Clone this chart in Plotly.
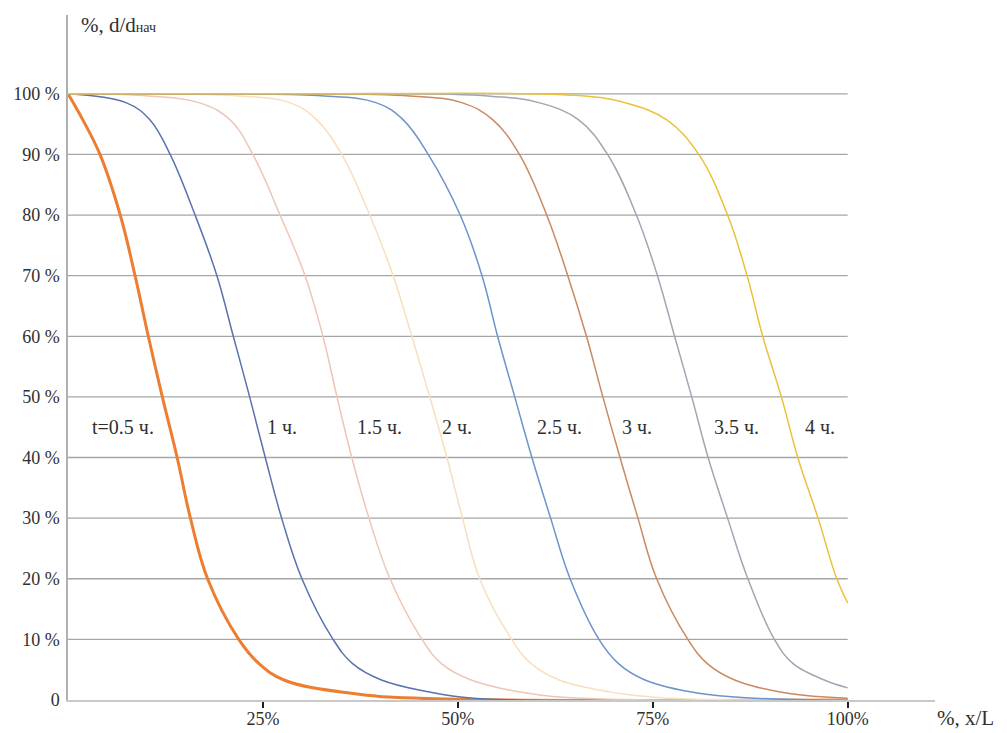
import plotly.graph_objects as go

# ---- data (x in % of L, y in % of d/d_init) ----
labels = ["t=0.5 ч.", "1 ч.", "1.5 ч.", "2 ч.", "2.5 ч.", "3 ч.", "3.5 ч.", "4 ч."]

x_05 = [0, 1.9, 4.1, 6.7, 8.6, 10.3, 12.1, 14.0, 15.7, 17.9, 21.9, 24.5, 27.7, 36.3, 45, 100]
y_05 = [100, 95.7, 90, 80, 70, 60, 50, 40, 30, 20, 10, 6, 3.3, 1.1, 0.3, 0]

x_10 = [0, 7.5, 10.5, 13.1, 16.3, 19.1, 21.2, 23.3, 25.3, 27.4, 30.0, 34.0, 36.5, 40.2, 46, 52, 100]
y_10 = [100, 98.5, 95.7, 90, 80, 70, 60, 50, 40, 30, 20, 10, 6, 3.3, 1.4, 0.3, 0]

x_15 = [0, 9.6, 16.9, 20.8, 23.7, 27.2, 30.4, 32.7, 34.5, 36.4, 38.6, 41.3, 45.4, 47.9, 51.7, 59, 66, 100]
y_15 = [100, 99.7, 98.5, 95.7, 90, 80, 70, 60, 50, 40, 30, 20, 10, 6, 3.3, 1.1, 0.3, 0]

x_20 = [0, 10, 21, 28.5, 31.9, 35.1, 38.7, 41.7, 44.1, 46.4, 48.6, 50.6, 52.8, 56.9, 59.4, 63, 70.6, 77, 100]
y_20 = [100, 100, 99.7, 98.5, 95.7, 90, 80, 70, 60, 50, 40, 30, 20, 10, 6, 3.3, 1.1, 0.3, 0]

x_25 = [0, 16, 32, 39.6, 43, 46.2, 50.3, 53.1, 55.1, 57.3, 59.5, 61.9, 64.4, 68.1, 70.6, 74, 80.9, 88, 100]
y_25 = [100, 100, 99.7, 98.5, 95.7, 90, 80, 70, 60, 50, 40, 30, 20, 10, 6, 3.3, 1.1, 0.3, 0]

x_30 = [0, 21, 43, 50.6, 54.5, 57.9, 61.4, 64.1, 66.5, 68.6, 70.8, 73.1, 75.5, 79.5, 82.0, 85.5, 92.3, 100]
y_30 = [100, 100, 99.7, 98.5, 95.7, 90, 80, 70, 60, 50, 40, 30, 20, 10, 6, 3.3, 1.1, 0.3]

x_35 = [0, 26, 53, 60.5, 65.5, 69.2, 72.9, 75.6, 77.8, 80, 82.1, 84.6, 87.2, 90.6, 93, 97, 100]
y_35 = [100, 100, 99.7, 98.5, 95.7, 90, 80, 70, 60, 50, 40, 30, 20, 10, 6, 3.3, 2]

x_40 = [0, 33, 65.5, 71.5, 76.8, 80.9, 84.6, 87.1, 89.1, 91.5, 93.6, 96.2, 98.6, 100]
y_40 = [100, 100, 99.7, 98.5, 95.7, 90, 80, 70, 60, 50, 40, 30, 20, 16]

label_x = [7.1, 27.4, 40.0, 49.9, 63.1, 73.0, 85.8, 96.4]
label_y = 45

y_ticks = [0, 10, 20, 30, 40, 50, 60, 70, 80, 90, 100]
y_ticktext = ["0", "10 %", "20 %", "30 %", "40 %", "50 %", "60 %", "70 %", "80 %", "90 %", "100 %"]
x_ticks = [25, 50, 75, 100]
x_ticktext = ["25%", "50%", "75%", "100%"]

# ---- styles ----
series = [(x_05, y_05), (x_10, y_10), (x_15, y_15), (x_20, y_20),
          (x_25, y_25), (x_30, y_30), (x_35, y_35), (x_40, y_40)]
colors = ["#ED7D31", "#5A72AE", "#EEC6B6", "#F8DFBF", "#6E93CB", "#C98A60", "#A2A6B2", "#E9C23A"]
widths = [3, 1.5, 1.5, 1.5, 1.5, 1.5, 1.5, 1.5]

FONT = "Liberation Serif"
TXT = "#303030"

fig = go.Figure()

# gridlines (only over the data range)
for yv in y_ticks[1:]:
    fig.add_shape(type="line", xref="x", yref="y", x0=0, x1=100, y0=yv, y1=yv,
                  line=dict(color="#A6A6A6", width=1.3), layer="below")

for (xs, ys), c, w, name in zip(series, colors, widths, labels):
    fig.add_trace(go.Scatter(x=xs, y=ys, mode="lines", name=name,
                             line=dict(color=c, width=w, shape="spline", smoothing=1.1),
                             hoverinfo="skip", showlegend=False, cliponaxis=False))

for lx, txt in zip(label_x, labels):
    fig.add_annotation(x=lx, y=label_y, xref="x", yref="y", text=txt, showarrow=False,
                       font=dict(family=FONT, size=20, color=TXT))

fig.add_annotation(xref="paper", yref="paper", x=0.013, y=0.985, xanchor="left", yanchor="middle",
                   text='%, d/d<span style="font-size:14px">нач</span>', showarrow=False,
                   font=dict(family=FONT, size=21, color=TXT))
fig.add_annotation(xref="paper", yref="paper", x=1.0, y=-0.027, xanchor="left", yanchor="middle",
                   text="%, x/L", showarrow=False,
                   font=dict(family=FONT, size=21, color=TXT))

# page body has an 8px margin: size the figure to fill the 1007x733 window exactly
fig.update_layout(
    width=999, height=725,
    margin=dict(l=60, r=72, t=7, b=33, autoexpand=False),
    paper_bgcolor="white", plot_bgcolor="white",
    font=dict(family=FONT, size=17, color=TXT),
    xaxis=dict(range=[0, 111.2], tickvals=x_ticks, ticktext=x_ticktext, automargin=False,
               showgrid=False, zeroline=False, showline=True, linecolor="#C8C8C8", linewidth=1.5,
               ticks="outside", ticklen=6, tickcolor="#202020", tickwidth=1.5,
               ticklabelstandoff=-4,
               tickfont=dict(family=FONT, size=18, color=TXT)),
    yaxis=dict(range=[0, 113], tickvals=y_ticks, ticktext=y_ticktext, automargin=False,
               showgrid=False, zeroline=False, showline=True, linecolor="#B0B0B0", linewidth=1.5,
               ticks="", ticklabelstandoff=3,
               tickfont=dict(family=FONT, size=18, color=TXT)),
)

fig.write_html("out.html")
